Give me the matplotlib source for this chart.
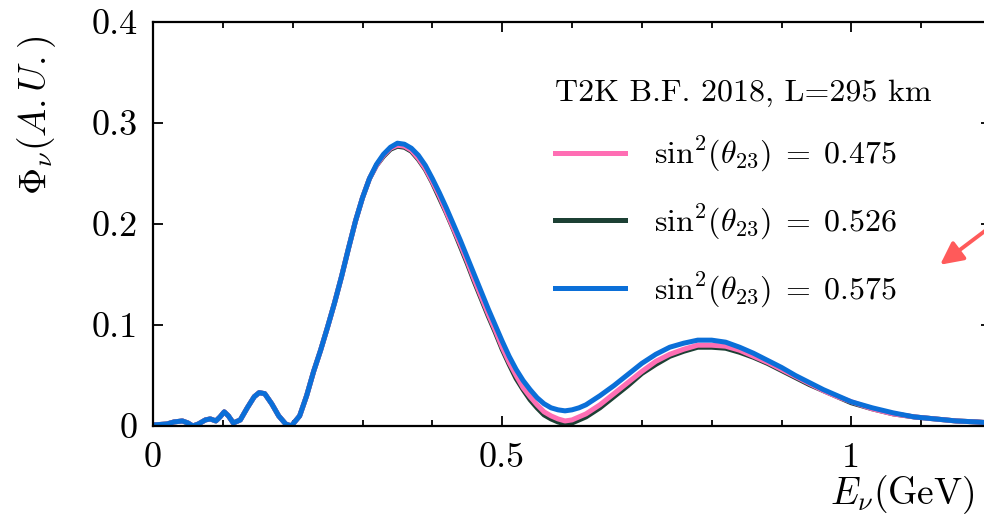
import matplotlib
matplotlib.use("Agg")
import matplotlib.pyplot as plt
from matplotlib.ticker import MultipleLocator

plt.rcParams["font.family"] = "serif"
plt.rcParams["font.serif"] = ["cmr10"]
plt.rcParams["mathtext.fontset"] = "cm"
plt.rcParams["axes.formatter.use_mathtext"] = True

energy = [0.0, 0.02, 0.03, 0.042, 0.05, 0.057, 0.065, 0.075, 0.082, 0.09,
          0.096, 0.102, 0.108, 0.115, 0.125, 0.135, 0.145, 0.152, 0.16, 0.17,
          0.18, 0.19, 0.198, 0.21, 0.22, 0.23, 0.24, 0.25, 0.26, 0.27,
          0.28, 0.29, 0.30, 0.31, 0.32, 0.33, 0.34, 0.35, 0.36, 0.37,
          0.38, 0.39, 0.40, 0.41, 0.42, 0.43, 0.44, 0.45, 0.46, 0.47,
          0.48, 0.49, 0.50, 0.51, 0.52, 0.53, 0.54, 0.55, 0.56, 0.57,
          0.58, 0.59, 0.60, 0.61, 0.62, 0.64, 0.66, 0.68, 0.70, 0.72,
          0.74, 0.76, 0.78, 0.80, 0.82, 0.84, 0.86, 0.88, 0.90, 0.92,
          0.94, 0.96, 0.98, 1.00, 1.03, 1.06, 1.09, 1.12, 1.15, 1.18, 1.20]

flux_0475 = [0.001, 0.002, 0.004, 0.005, 0.003, 0.000, 0.002, 0.006, 0.007, 0.005,
             0.009, 0.014, 0.010, 0.003, 0.006, 0.018, 0.029, 0.033, 0.032, 0.022,
             0.010, 0.002, 0.000, 0.010, 0.030, 0.054, 0.075, 0.098, 0.122, 0.148,
             0.176, 0.203, 0.226, 0.245, 0.258, 0.268, 0.275, 0.278, 0.277, 0.273,
             0.265, 0.255, 0.242, 0.228, 0.212, 0.196, 0.180, 0.163, 0.145, 0.128,
             0.111, 0.095, 0.078, 0.063, 0.050, 0.038, 0.029, 0.021, 0.014, 0.010,
             0.007, 0.005, 0.006, 0.009, 0.012, 0.021, 0.032, 0.043, 0.054, 0.064,
             0.071, 0.076, 0.080, 0.080, 0.079, 0.075, 0.069, 0.063, 0.056, 0.049,
             0.042, 0.035, 0.029, 0.024, 0.017, 0.012, 0.009, 0.007, 0.005, 0.004, 0.003]

flux_0526 = [0.001, 0.002, 0.004, 0.005, 0.003, 0.000, 0.002, 0.006, 0.007, 0.005,
             0.009, 0.014, 0.010, 0.003, 0.006, 0.018, 0.029, 0.033, 0.032, 0.022,
             0.010, 0.002, 0.000, 0.010, 0.030, 0.054, 0.075, 0.098, 0.122, 0.148,
             0.176, 0.203, 0.226, 0.245, 0.258, 0.267, 0.274, 0.277, 0.276, 0.272,
             0.264, 0.254, 0.241, 0.226, 0.211, 0.195, 0.178, 0.161, 0.143, 0.126,
             0.109, 0.093, 0.076, 0.061, 0.047, 0.036, 0.026, 0.018, 0.011, 0.007,
             0.004, 0.002, 0.003, 0.006, 0.009, 0.018, 0.029, 0.040, 0.052, 0.061,
             0.069, 0.074, 0.078, 0.078, 0.077, 0.073, 0.068, 0.062, 0.055, 0.048,
             0.041, 0.035, 0.029, 0.023, 0.017, 0.012, 0.009, 0.007, 0.005, 0.004, 0.003]

flux_0575 = [0.001, 0.002, 0.004, 0.005, 0.003, 0.000, 0.002, 0.006, 0.007, 0.005,
             0.009, 0.014, 0.010, 0.003, 0.006, 0.018, 0.029, 0.033, 0.032, 0.022,
             0.010, 0.002, 0.000, 0.010, 0.030, 0.054, 0.075, 0.098, 0.122, 0.148,
             0.176, 0.203, 0.226, 0.245, 0.259, 0.269, 0.276, 0.280, 0.279, 0.275,
             0.268, 0.258, 0.245, 0.231, 0.216, 0.200, 0.184, 0.167, 0.150, 0.133,
             0.116, 0.100, 0.084, 0.069, 0.056, 0.045, 0.036, 0.028, 0.022, 0.018,
             0.016, 0.015, 0.016, 0.018, 0.021, 0.030, 0.040, 0.051, 0.062, 0.071,
             0.078, 0.082, 0.085, 0.085, 0.083, 0.078, 0.072, 0.065, 0.058, 0.050,
             0.043, 0.036, 0.030, 0.024, 0.018, 0.013, 0.009, 0.007, 0.005, 0.004, 0.003]

labels = [r"$\mathrm{sin}^2(\theta_{23})\;=\;0.475$",
          r"$\mathrm{sin}^2(\theta_{23})\;=\;0.526$",
          r"$\mathrm{sin}^2(\theta_{23})\;=\;0.575$"]
colors = ["#ff6eb4", "#1c4034", "#0b6fd8"]

fig = plt.figure(figsize=(9.84, 5.14), dpi=100)
ax = fig.add_axes([153 / 984, 88 / 514, 838 / 984, 404 / 514])

l2, = ax.plot(energy, flux_0526, color=colors[1], lw=3.6, label=labels[1],
              solid_joinstyle="round")
l1, = ax.plot(energy, flux_0475, color=colors[0], lw=3.6, label=labels[0],
              solid_joinstyle="round")
l3, = ax.plot(energy, flux_0575, color=colors[2], lw=3.6, label=labels[2],
              solid_joinstyle="round")

ax.set_xlim(0, 1.2)
ax.set_ylim(0, 0.4)
ax.set_xticks([0, 0.5, 1])
ax.set_xticklabels(["0", "0.5", "1"])
ax.xaxis.set_minor_locator(MultipleLocator(0.1))
ax.set_yticks([0, 0.1, 0.2, 0.3, 0.4])
ax.set_yticklabels(["0", "0.1", "0.2", "0.3", "0.4"])
ax.tick_params(which="both", direction="in", top=True, right=True, labelsize=26, width=1.3)
ax.tick_params(which="major", length=7, pad=11)
ax.tick_params(axis="x", which="major", pad=12)
ax.tick_params(which="minor", length=4)
for s in ax.spines.values():
    s.set_linewidth(1.6)

fig.text(37 / 984, 1 - 115 / 514, r"$\Phi_\nu(A.U.)$", rotation=90,
         ha="center", va="center", fontsize=27)
fig.text(975 / 984, 1 - 504 / 514, r"$E_\nu$(GeV)", ha="right", va="baseline", fontsize=27)

leg = ax.legend(handles=[l1, l2, l3], title="T2K B.F. 2018, L=295 km", frameon=False,
                fontsize=23, title_fontsize=23, loc="upper left",
                bbox_to_anchor=(0.445, 0.93), handlelength=2.2, handletextpad=0.9,
                labelspacing=0.9)
leg._legend_box.align = "left"

ax.annotate("", xy=(1.124, 0.158), xytext=(1.216, 0.206),
            arrowprops=dict(arrowstyle="-|>", color="#ff5a5a", lw=2.8,
                            mutation_scale=34), annotation_clip=False)

fig.savefig("out.png", dpi=100)
